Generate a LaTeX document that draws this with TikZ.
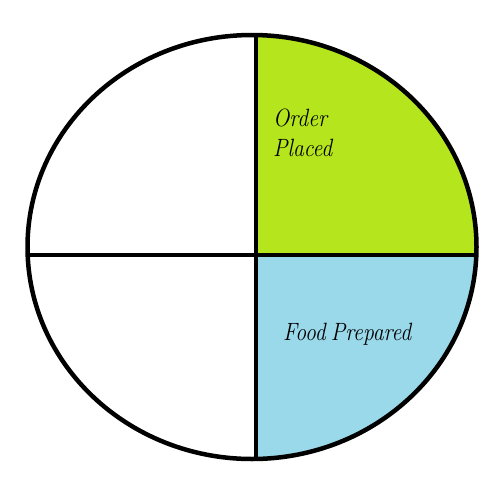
\documentclass[tikz,border=0pt]{standalone}
\usepackage{fontspec}
\usepackage{tikz}
\definecolor{ordergreen}{RGB}{181,230,29}
\definecolor{foodblue}{RGB}{153,217,234}
\tikzstyle{phase} = [font=\itshape\fontsize{25}{30}\selectfont, align=left, inner sep=0pt, xscale=0.87]
\tikzstyle{rim} = [line width=4.5pt, draw=black]
\newcommand{\wheel}{(252,247) ellipse [x radius=224.5, y radius=212]}

\begin{document}
\begin{tikzpicture}[x=1pt,y=-1pt]
			\useasboundingbox (0,0) rectangle (503,501);
			\begin{scope}
				\clip (256,255) rectangle (503,0);
				\fill[ordergreen] \wheel;
			\end{scope}
			\begin{scope}
				\clip (256,255) rectangle (503,501);
				\fill[foodblue] \wheel;
			\end{scope}
			\draw[rim] \wheel;
			\coordinate (top) at (256,34);
			\coordinate (bottom) at (256,459);
			\coordinate (left) at (27,255);
			\coordinate (right) at (476.5,255);
			\draw[rim] (top) -- (bottom);
			\draw[rim] (left) -- (right);
			\node [phase, anchor=north west] (order) at (273,109) {Order\\Placed};
			\node [phase, anchor=base west] (food) at (283,340) {Food\hspace{-0.12em} Prepared};
		\end{tikzpicture}
\end{document}
